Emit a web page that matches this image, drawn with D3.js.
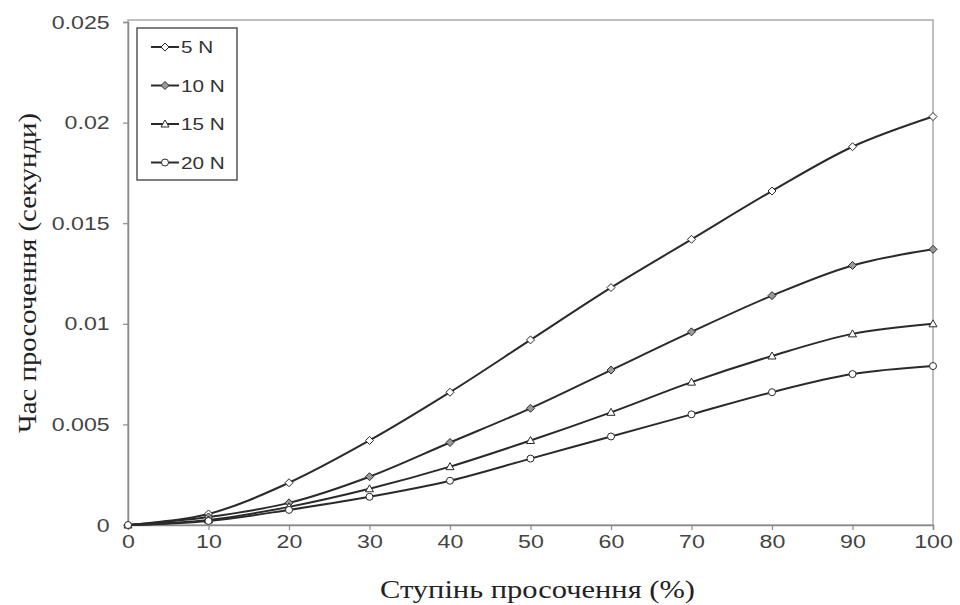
<!DOCTYPE html>
<html><head><meta charset="utf-8">
<script src="https://cdn.jsdelivr.net/npm/d3@7"></script>
<style>body{margin:0;background:#fff}svg{display:block}</style>
</head><body><svg id="c" width="960" height="605"></svg>
<script>
const xValues = [0,10,20,30,40,50,60,70,80,90,100];
const seriesNames = ["5 N","10 N","15 N","20 N"];
const s5  = [0,0.00055,0.0021,0.0042,0.0066,0.0092,0.0118,0.0142,0.0166,0.0188,0.0203];
const s10 = [0,0.0004,0.0011,0.0024,0.0041,0.0058,0.0077,0.0096,0.0114,0.0129,0.0137];
const s15 = [0,0.00025,0.0009,0.0018,0.0029,0.0042,0.0056,0.0071,0.0084,0.0095,0.0100];
const s20 = [0,0.0002,0.00075,0.0014,0.0022,0.0033,0.0044,0.0055,0.0066,0.0075,0.0079];
const xTicks = [0,10,20,30,40,50,60,70,80,90,100];
const yTicks = [0,0.005,0.01,0.015,0.02,0.025];
const yTickLabels = ["0","0.005","0.01","0.015","0.02","0.025"];
const xTitle = "Ступінь просочення (%)";
const yTitle = "Час просочення (секунди)";

const series = [s5,s10,s15,s20];
const markers = ["diamond","diamondFill","triangle","circle"];

const svg = d3.select("#c");
const L=128,R=933,T=22,B=525;
const SX=1.22;
const x = d3.scaleLinear().domain([0,100]).range([L,R]);
const y = d3.scaleLinear().domain([0,0.025]).range([B,T]);
const axisCol="#8a8a8a";
const sans="Liberation Sans, Arial, sans-serif";
const serif="Liberation Serif, Times New Roman, serif";

// frame
svg.append("rect").attr("x",L).attr("y",T-2).attr("width",R-L).attr("height",B-T+2)
  .attr("fill","none").attr("stroke","#aaa").attr("stroke-width",1.5);

const xa = svg.append("g").attr("transform",`translate(0,${B})`)
  .call(d3.axisBottom(x).tickValues(xTicks).tickSize(5).tickPadding(5).tickFormat(d3.format("d")));
const ya = svg.append("g").attr("transform",`translate(${L},0)`)
  .call(d3.axisLeft(y).tickValues(yTicks).tickSize(5).tickPadding(10).tickFormat((d,i)=>yTickLabels[i]));
[xa,ya].forEach(a=>{
  a.selectAll("path").attr("stroke",axisCol).attr("stroke-width",1.5);
  a.selectAll("line").attr("stroke",axisCol).attr("stroke-width",1.2);
  a.selectAll("text").attr("font-family",sans).attr("font-size",19).attr("fill","#444")
    .attr("transform",`scale(${SX},1)`);
});

const line = d3.line().x((d,i)=>x(xValues[i])).y(d=>y(d)).curve(d3.curveCatmullRom.alpha(0.5));
const lineCol="#2a2a2a";

function drawMarker(g, type, cx, cy){
  if(type==="diamond"||type==="diamondFill"){
    g.append("path").attr("d",`M${cx},${cy-4}L${cx+4},${cy}L${cx},${cy+4}L${cx-4},${cy}Z`)
      .attr("fill",type==="diamond"?"#fff":"#999").attr("stroke",lineCol).attr("stroke-width",1);
  } else if(type==="triangle"){
    g.append("path").attr("d",`M${cx},${cy-4}L${cx+4},${cy+3}L${cx-4},${cy+3}Z`)
      .attr("fill","#fff").attr("stroke",lineCol).attr("stroke-width",1);
  } else {
    g.append("circle").attr("cx",cx).attr("cy",cy).attr("r",3.5)
      .attr("fill","#fff").attr("stroke",lineCol).attr("stroke-width",1);
  }
}

series.forEach((s,k)=>{
  const g = svg.append("g");
  g.append("path").datum(s).attr("d",line).attr("fill","none").attr("stroke",lineCol).attr("stroke-width",2);
  s.forEach((v,i)=>drawMarker(g, markers[k], x(xValues[i]), y(v)));
});

// legend
const lg = svg.append("g");
lg.append("rect").attr("x",137).attr("y",28).attr("width",100).attr("height",152)
  .attr("fill","#fff").attr("stroke","#555").attr("stroke-width",1.5);
seriesNames.forEach((n,k)=>{
  const yy = 47 + k*38.5;
  lg.append("line").attr("x1",151).attr("x2",179).attr("y1",yy).attr("y2",yy)
    .attr("stroke",lineCol).attr("stroke-width",2);
  drawMarker(lg, markers[k], 165, yy);
  lg.append("text").attr("transform",`translate(181,${yy+6}) scale(${SX},1)`).text(n)
    .attr("font-family",sans).attr("font-size",17).attr("fill","#333");
});

// titles
svg.append("text").attr("x",(L+R)/2+7).attr("y",598).attr("text-anchor","middle")
  .attr("textLength",315).attr("lengthAdjust","spacingAndGlyphs")
  .attr("font-family",serif).attr("font-size",26).attr("fill","#222").text(xTitle);
svg.append("text").attr("transform",`translate(36,273) rotate(-90)`).attr("text-anchor","middle")
  .attr("textLength",320).attr("lengthAdjust","spacingAndGlyphs")
  .attr("font-family",serif).attr("font-size",26).attr("fill","#222").text(yTitle);
</script></body></html>
